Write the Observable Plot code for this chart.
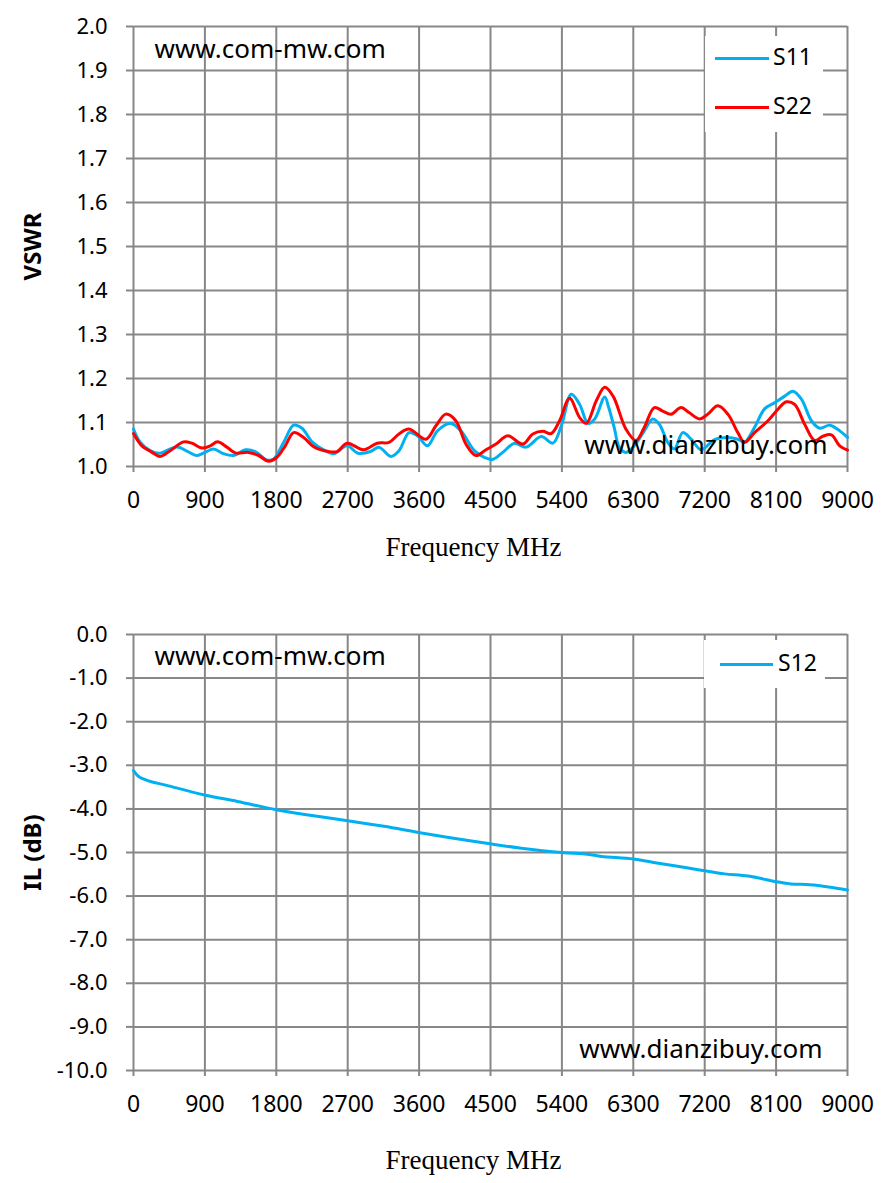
<!DOCTYPE html>
<html><head><meta charset="utf-8">
<script src="https://cdn.jsdelivr.net/npm/d3@7"></script>
<script src="https://cdn.jsdelivr.net/npm/@observablehq/plot@0.6"></script>
<style>
body{margin:0;background:#fff;}
#wrap{position:relative;width:893px;height:1183px;overflow:hidden;}
#wrap svg{display:block;}
.legend{position:absolute;background:#fff;font-family:"Noto Sans",sans-serif;font-size:23px;color:#000;}
.legend .sw{position:absolute;height:3px;}
.legend .lb{position:absolute;line-height:1;}
</style></head><body><div id="wrap"></div>
<script>
// ---- data ----
const xTicks = [0, 900, 1800, 2700, 3600, 4500, 5400, 6300, 7200, 8100, 9000];
const vswrTicks = [1.0, 1.1, 1.2, 1.3, 1.4, 1.5, 1.6, 1.7, 1.8, 1.9, 2.0];
const ilTicks = [0, -1, -2, -3, -4, -5, -6, -7, -8, -9, -10];

const s11Freq = [0, 84, 210, 336, 463, 568, 673, 800, 900, 1009, 1135, 1262, 1409, 1535, 1682, 1766, 1893, 2019, 2124, 2250, 2397, 2523, 2692, 2830, 2989, 3094, 3242, 3347, 3473, 3579, 3705, 3832, 4000, 4127, 4296, 4422, 4527, 4654, 4801, 4949, 5139, 5286, 5392, 5518, 5624, 5729, 5814, 5940, 5990, 6060, 6123, 6207, 6313, 6439, 6544, 6628, 6734, 6818, 6923, 7029, 7155, 7323, 7492, 7618, 7702, 7829, 7955, 8081, 8208, 8313, 8419, 8545, 8650, 8777, 8903, 9000];
const s11 = [1.085, 1.055, 1.036, 1.030, 1.040, 1.044, 1.035, 1.025, 1.032, 1.040, 1.029, 1.025, 1.038, 1.034, 1.015, 1.017, 1.055, 1.094, 1.087, 1.056, 1.038, 1.029, 1.047, 1.030, 1.034, 1.044, 1.023, 1.036, 1.077, 1.070, 1.047, 1.081, 1.098, 1.081, 1.036, 1.021, 1.016, 1.032, 1.053, 1.044, 1.068, 1.053, 1.092, 1.164, 1.141, 1.098, 1.108, 1.158, 1.134, 1.088, 1.044, 1.032, 1.047, 1.081, 1.108, 1.096, 1.055, 1.040, 1.077, 1.062, 1.038, 1.061, 1.066, 1.062, 1.055, 1.089, 1.131, 1.145, 1.160, 1.171, 1.153, 1.104, 1.087, 1.094, 1.081, 1.066];

const s22Freq = [0, 105, 210, 336, 463, 631, 736, 862, 967, 1059, 1177, 1283, 1451, 1577, 1703, 1808, 1913, 2019, 2145, 2271, 2460, 2565, 2692, 2902, 3070, 3221, 3347, 3473, 3684, 3810, 3937, 4063, 4190, 4316, 4443, 4569, 4717, 4906, 5033, 5160, 5265, 5371, 5497, 5624, 5708, 5835, 5940, 6045, 6207, 6334, 6439, 6565, 6671, 6776, 6902, 7007, 7134, 7239, 7365, 7492, 7618, 7702, 7829, 7997, 8123, 8229, 8334, 8460, 8587, 8692, 8797, 8902, 9000];
const s22 = [1.075, 1.047, 1.035, 1.023, 1.036, 1.056, 1.053, 1.042, 1.047, 1.056, 1.044, 1.031, 1.032, 1.025, 1.012, 1.021, 1.047, 1.077, 1.066, 1.045, 1.034, 1.034, 1.053, 1.038, 1.053, 1.055, 1.074, 1.085, 1.062, 1.092, 1.119, 1.104, 1.051, 1.025, 1.038, 1.051, 1.070, 1.051, 1.074, 1.080, 1.075, 1.104, 1.155, 1.111, 1.098, 1.150, 1.180, 1.160, 1.085, 1.059, 1.089, 1.134, 1.126, 1.119, 1.134, 1.122, 1.108, 1.119, 1.138, 1.119, 1.077, 1.055, 1.077, 1.104, 1.130, 1.147, 1.141, 1.096, 1.059, 1.069, 1.072, 1.047, 1.037];

const s12Freq = [0, 60, 179, 417, 894, 1311, 1800, 2205, 2700, 3159, 3594, 3993, 4494, 4887, 5400, 5722, 5901, 6300, 6556, 6974, 7200, 7450, 7748, 8106, 8285, 8523, 8762, 9000];
const s12 = [-3.12, -3.25, -3.35, -3.46, -3.68, -3.83, -4.02, -4.14, -4.27, -4.40, -4.54, -4.66, -4.80, -4.90, -5.00, -5.04, -5.09, -5.15, -5.23, -5.35, -5.42, -5.49, -5.54, -5.67, -5.72, -5.74, -5.79, -5.86];

const seriesNames = ["S11", "S22", "S12"];
const seriesColors = ["#00B0F0", "#FF0000", "#00B0F0"];

// ---- helpers ----
const GRID = "#878787";
const toRows = (fs, vs) => fs.map((f, i) => ({f, v: vs[i]}));

function chart({height, marginTop, marginBottom, yDomain, yTicks, yLabel, series, wmTopDy, wmBotDx, xTitleDy}) {
  return Plot.plot({
    width: 893, height, marginLeft: 133, marginRight: 46, marginTop, marginBottom,
    style: {fontFamily: "'Noto Sans', sans-serif", fontSize: "22px", color: "#000", background: "#fff", overflow: "visible"},
    x: {domain: [0, 9000]},
    y: {domain: yDomain},
    marks: [
      Plot.gridX(xTicks, {stroke: GRID, strokeOpacity: 1, strokeWidth: 2}),
      Plot.gridY(yTicks, {stroke: GRID, strokeOpacity: 1, strokeWidth: 2}),
      Plot.axisX(xTicks, {tickSize: 6, tickPadding: 19, stroke: GRID, strokeWidth: 2, fontSize: 23, tickFormat: d => String(d), label: null}),
      Plot.axisY(yTicks, {tickSize: 7, tickPadding: 19, stroke: GRID, strokeWidth: 2, fontSize: 22, tickFormat: d => d.toFixed(1), label: null}),
      ...series.map(s => Plot.line(toRows(s.f, s.v), {x: "f", y: "v", stroke: s.color, strokeWidth: 3, curve: "catmull-rom"})),
      Plot.text(["www.com-mw.com"], {frameAnchor: "top-left", dx: 21, dy: wmTopDy, textAnchor: "start", lineAnchor: "bottom", fontSize: 26, fill: "#000"}),
      Plot.text(["www.dianzibuy.com"], {frameAnchor: "bottom-right", dx: wmBotDx, dy: -13, textAnchor: "end", lineAnchor: "bottom", fontSize: 26, fill: "#000"}),
      Plot.text([yLabel], {frameAnchor: "left", dx: -100, rotate: -90, textAnchor: "middle", lineAnchor: "middle", fontSize: 24, fontWeight: "bold", fill: "#000"}),
      Plot.text(["Frequency MHz"], {frameAnchor: "bottom", dx: -17, dy: xTitleDy, textAnchor: "middle", lineAnchor: "bottom", fontSize: 27, fontFamily: "'Liberation Serif', serif", fill: "#000"})
    ]
  });
}

function legend(items, box) {
  const d = document.createElement("div");
  d.className = "legend";
  Object.assign(d.style, {left: box.left + "px", top: box.top + "px", width: box.w + "px", height: box.h + "px"});
  items.forEach((it, i) => {
    const y = box.first + i * box.step;
    const sw = document.createElement("div");
    sw.className = "sw";
    Object.assign(sw.style, {left: box.swX + "px", width: box.swW + "px", top: (y - 1.5) + "px", background: it.color});
    const lb = document.createElement("div");
    lb.className = "lb";
    lb.textContent = it.name;
    Object.assign(lb.style, {left: box.txX + "px", top: (y - 13) + "px"});
    d.appendChild(sw); d.appendChild(lb);
  });
  return d;
}

const wrap = document.getElementById("wrap");
const top1 = chart({
  height: 575, marginTop: 26, marginBottom: 109, yDomain: [1, 2], yTicks: vswrTicks, yLabel: "VSWR",
  series: [
    {f: s11Freq, v: s11, color: seriesColors[0]},
    {f: s22Freq, v: s22, color: seriesColors[1]}
  ], wmTopDy: 31, wmBotDx: -20, xTitleDy: 89
});
const bot = chart({
  height: 608, marginTop: 59, marginBottom: 113, yDomain: [-10, 0], yTicks: ilTicks, yLabel: "IL (dB)",
  series: [{f: s12Freq, v: s12, color: seriesColors[2]}], wmTopDy: 30, wmBotDx: -25, xTitleDy: 98
});
wrap.appendChild(top1);
wrap.appendChild(bot);
wrap.appendChild(legend([{name: seriesNames[0], color: seriesColors[0]}, {name: seriesNames[1], color: seriesColors[1]}],
  {left: 705, top: 36, w: 118, h: 96, first: 22, step: 49, swX: 10, swW: 54, txX: 68}));
wrap.appendChild(legend([{name: seriesNames[2], color: seriesColors[2]}],
  {left: 704, top: 640, w: 121, h: 48, first: 24, step: 0, swX: 16, swW: 53, txX: 74}));
</script></body></html>
